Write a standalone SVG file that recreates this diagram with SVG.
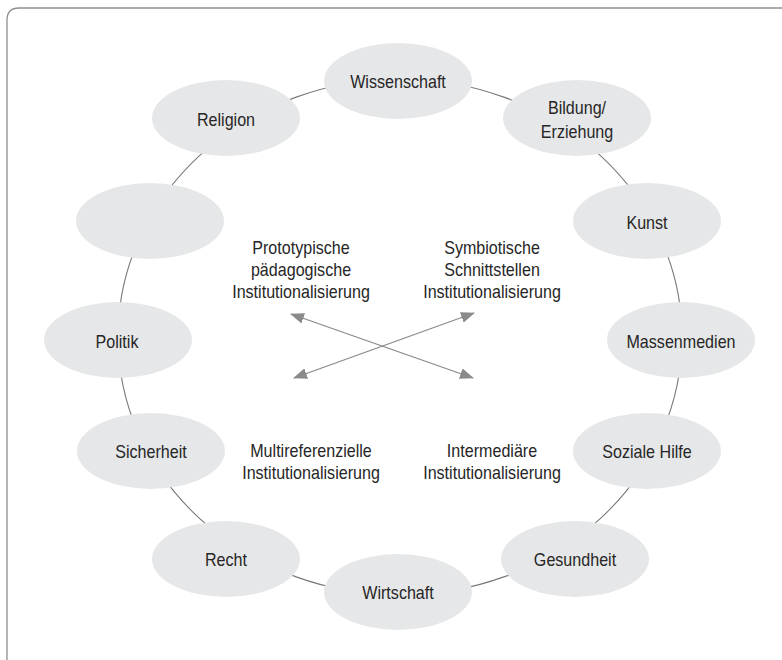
<svg xmlns="http://www.w3.org/2000/svg" width="782" height="660" viewBox="0 0 782 660">
<defs>
<style>
.frame{fill:none;stroke:#8f8f8f;stroke-width:1.3}
.ring{fill:none;stroke:#7a7a7a;stroke-width:1.1}
.node ellipse{fill:#e6e7e8;stroke:none}
text{font-family:"Liberation Sans",Arial,sans-serif;font-size:17.5px;fill:#262626;text-anchor:middle}
.arr{stroke:#8a8a8a;stroke-width:1.3;fill:none;marker-start:url(#ah);marker-end:url(#ah)}
</style>
<marker id="ah" viewBox="0 0 14 11" refX="13" refY="5.5" markerWidth="14" markerHeight="11" markerUnits="userSpaceOnUse" orient="auto-start-reverse">
<path d="M0,0 L14,5.5 L0,11 Z" fill="#8a8a8a"/>
</marker>
</defs>
<rect width="782" height="660" fill="#ffffff"/>
<path class="frame" d="M7,660 L7,20 Q7,8 19,8 L782,8"/>
<g id="connectors">
<ellipse class="ring" cx="400" cy="337" rx="282" ry="258"/>
<line class="arr" x1="291" y1="314" x2="473" y2="378"/>
<line class="arr" x1="294" y1="378" x2="474" y2="313"/>
</g>
<g id="n-wissenschaft" class="node"><ellipse cx="398" cy="81" rx="74" ry="38"/><text transform="translate(398 88) scale(0.92 1)">Wissenschaft</text></g>
<g id="n-bildung" class="node"><ellipse cx="577" cy="118" rx="74" ry="38"/><text transform="translate(577 114) scale(0.92 1)">Bildung/</text><text transform="translate(577 138) scale(0.92 1)">Erziehung</text></g>
<g id="n-kunst" class="node"><ellipse cx="647" cy="221" rx="74" ry="38"/><text transform="translate(647 229) scale(0.92 1)">Kunst</text></g>
<g id="n-massenmedien" class="node"><ellipse cx="681" cy="340" rx="74" ry="38"/><text transform="translate(681 348) scale(0.92 1)">Massenmedien</text></g>
<g id="n-sozialehilfe" class="node"><ellipse cx="647" cy="451" rx="74" ry="38"/><text transform="translate(647 458) scale(0.92 1)">Soziale Hilfe</text></g>
<g id="n-gesundheit" class="node"><ellipse cx="575" cy="559" rx="74" ry="38"/><text transform="translate(575 566) scale(0.92 1)">Gesundheit</text></g>
<g id="n-wirtschaft" class="node"><ellipse cx="398" cy="592" rx="74" ry="38"/><text transform="translate(398 599) scale(0.92 1)">Wirtschaft</text></g>
<g id="n-recht" class="node"><ellipse cx="226" cy="559" rx="74" ry="38"/><text transform="translate(226 566) scale(0.92 1)">Recht</text></g>
<g id="n-sicherheit" class="node"><ellipse cx="151" cy="451" rx="74" ry="38"/><text transform="translate(151 458) scale(0.92 1)">Sicherheit</text></g>
<g id="n-politik" class="node"><ellipse cx="118" cy="340" rx="74" ry="38"/><text transform="translate(117 348) scale(0.92 1)">Politik</text></g>
<g id="n-empty" class="node"><ellipse cx="150" cy="221" rx="74" ry="38"/></g>
<g id="n-religion" class="node"><ellipse cx="226" cy="118" rx="74" ry="38"/><text transform="translate(226 126) scale(0.92 1)">Religion</text></g>
<g id="c-prototypisch"><text transform="translate(301 254) scale(0.92 1)">Prototypische</text><text transform="translate(301 276) scale(0.92 1)">pädagogische</text><text transform="translate(301 298) scale(0.92 1)">Institutionalisierung</text></g>
<g id="c-symbiotisch"><text transform="translate(492 254) scale(0.92 1)">Symbiotische</text><text transform="translate(492 276) scale(0.92 1)">Schnittstellen</text><text transform="translate(492 298) scale(0.92 1)">Institutionalisierung</text></g>
<g id="c-multireferenziell"><text transform="translate(311 457) scale(0.92 1)">Multireferenzielle</text><text transform="translate(311 479) scale(0.92 1)">Institutionalisierung</text></g>
<g id="c-intermediaer"><text transform="translate(492 457) scale(0.92 1)">Intermediäre</text><text transform="translate(492 479) scale(0.92 1)">Institutionalisierung</text></g>
</svg>
